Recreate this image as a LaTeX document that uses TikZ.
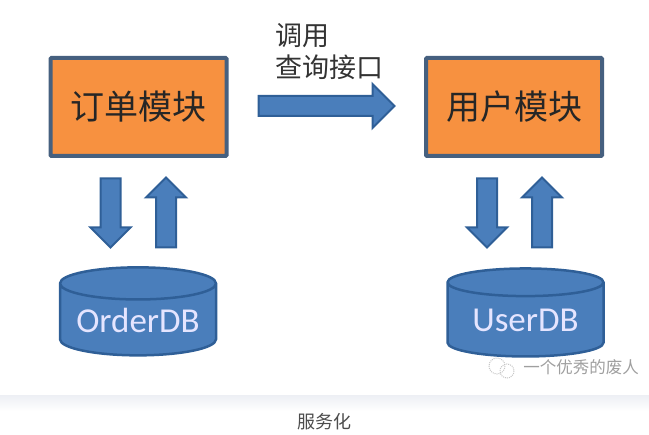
\documentclass[tikz,border=0pt]{standalone}
\usepackage{fontspec}
\setmainfont{Carlito}
\newfontfamily\cjk{Noto Sans CJK SC}
\usetikzlibrary{shapes.arrows,shapes.geometric}
\definecolor{boxorange}{HTML}{F79140}
\definecolor{boxedge}{HTML}{46607F}
\definecolor{arrowblue}{HTML}{4A7EBB}
\definecolor{arrowedge}{HTML}{2F5F97}
\definecolor{dbtop}{HTML}{4F81BD}
\definecolor{footband}{HTML}{EEF0F5}
\tikzset{
	modulebox/.style={draw=boxedge,fill=boxorange,line width=4pt,rounded corners=1pt,minimum width=176pt,minimum height=98pt,inner sep=0pt,font=\cjk\fontsize{34}{38}\selectfont,text=black!85},
	blockarrow/.style={single arrow,draw=arrowedge,fill=arrowblue,line width=2pt,inner xsep=0pt,inner ysep=9pt,outer sep=0pt,single arrow tip angle=90,single arrow head extend=10pt,minimum width=38pt},
	dbnode/.style={cylinder,shape border rotate=90,aspect=0.26,draw=arrowedge,fill=arrowblue,cylinder uses custom fill,cylinder body fill=arrowblue,cylinder end fill=dbtop,line width=2.5pt,minimum width=156pt,minimum height=88pt,inner sep=0pt,text=white!90!blue,font=\fontsize{35}{38}\selectfont},
	calltext/.style={font=\cjk\fontsize{27}{32}\selectfont,text=black!80,align=left,inner sep=0pt},
}
\begin{document}
\begin{tikzpicture}[x=1pt,y=-1pt]
	\useasboundingbox (0,0) rectangle (649,435);
	% modules
	\node[modulebox] (order) at (138.5,107) {订单模块};
	\node[modulebox] (user) at (514,107) {用户模块};
	% call between the modules
	\node[blockarrow,minimum height=136pt,minimum width=42pt,single arrow head extend=12pt] (call) at (321.5,106) {};
	\node[calltext,anchor=north west] (calllabel) at (275,23) {调用\\查询接口};
	% databases
	\node[dbnode] (orderdb) at (138,320) {OrderDB};
	\node[dbnode] (userdb) at (525.5,320) {UserDB};
	% arrows to and from the databases
	\node[blockarrow,rotate=-90,minimum height=69pt] (orderdown) at (110.5,208) {};
	\node[blockarrow,rotate=90,minimum height=70pt] (orderup) at (166,217.5) {};
	\node[blockarrow,rotate=-90,minimum height=69pt] (userdown) at (487,208) {};
	\node[blockarrow,rotate=90,minimum height=70pt] (userup) at (542,217.5) {};
	% watermark
	\draw[gray!45,densely dotted,line width=1pt] (497,366) circle (8);
	\draw[gray!45,densely dotted,line width=1pt] (507,371) circle (7);
	\node[font=\cjk\fontsize{16.5}{20}\selectfont,text=gray!75,inner sep=0pt] (mark) at (581,367) {一个优秀的废人};
	% page footer
	\shade[top color=footband,bottom color=white] (0,396) rectangle (649,411);
	\node[font=\cjk\fontsize{18}{20}\selectfont,text=black!70,inner sep=0pt] (caption) at (324,422) {服务化};
\end{tikzpicture}
\end{document}
